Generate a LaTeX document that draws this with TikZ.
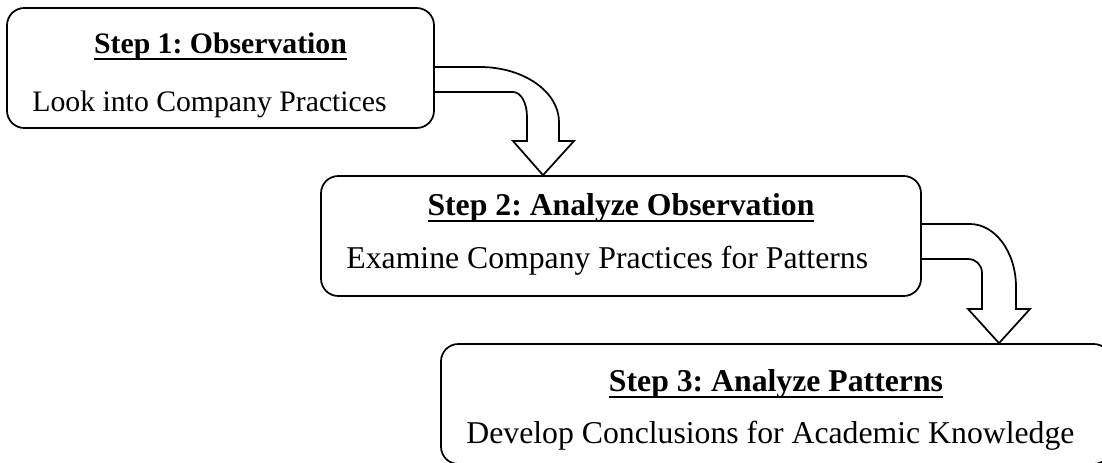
\documentclass[tikz,border=0pt]{standalone}
\usepackage{fontspec}
\setmainfont{Liberation Serif}
\usepackage{tikz}
\usetikzlibrary{calc}
\frenchspacing

\newcommand{\ultitle}[1]{\setbox0\hbox{\bfseries #1}\rlap{\usebox0}\rule[-5pt]{\wd0}{1.5pt}}

\begin{document}
\begin{tikzpicture}[x=0.75pt, y=-0.75pt,
    box/.style={rectangle, draw, rounded corners=13pt, line width=1.3pt, minimum height=90pt, inner sep=0pt},
    txt/.style={inner sep=0pt, font=\fontsize{22.3}{26}\selectfont},
    txtl/.style={inner sep=0pt, font=\fontsize{23.8}{28}\selectfont},
    bigarrow/.style={draw, line width=1.3pt, line join=miter}
]
\useasboundingbox (0,0) rectangle (1102,462);
\clip (0,0) rectangle (1102,462);

\node[box, minimum width=320.25pt] (step1) at (220.5,68) {};
\node[box, minimum width=450pt] (step2) at (621,236) {};
\node[box, minimum width=502.5pt] (step3) at (776,404) {};

\node[txt, anchor=base] (title1) at (step1.north |- 0,53) {\ultitle{Step 1: Observation}};
\node[txt, anchor=base west] (body1) at ($(step1.west |- 0,111)+(26,0)$) {Look into Company Practices};
\node[txtl, anchor=base] (title2) at (step2.north |- 0,215) {\ultitle{Step 2: Analyze Observation}};
\node[txtl, anchor=base west] (body2) at ($(step2.west |- 0,268)+(26,0)$) {Examine Company Practices for Patterns};
\node[txtl, anchor=base] (title3) at (step3.north |- 0,391) {\ultitle{Step 3: Analyze Patterns}};
\node[txtl, anchor=base west] (body3) at ($(step3.west |- 0,443)+(26,0)$) {Develop Conclusions for Academic Knowledge};

% bent arrows between the steps
\draw[bigarrow] (step1.east |- 0,67) -- (480,67) .. controls (524,67) and (559,92) .. (559,122)
    -- (559,141) -- (574,141) -- (543,0 |- step2.north) -- (513,141) -- (527,141) -- (527,117)
    .. controls (527,103) and (521,92) .. (513,92) -- (step1.east |- 0,92);
\draw[bigarrow] (step2.east |- 0,224) -- (970,224) .. controls (995,224) and (1016,252) .. (1016,287)
    -- (1016,309) -- (1030,309) -- (999,0 |- step3.north) -- (968,309) -- (982,309) -- (982,273)
    .. controls (982,265) and (976,259) .. (968,259) -- (step2.east |- 0,259);
\end{tikzpicture}
\end{document}
